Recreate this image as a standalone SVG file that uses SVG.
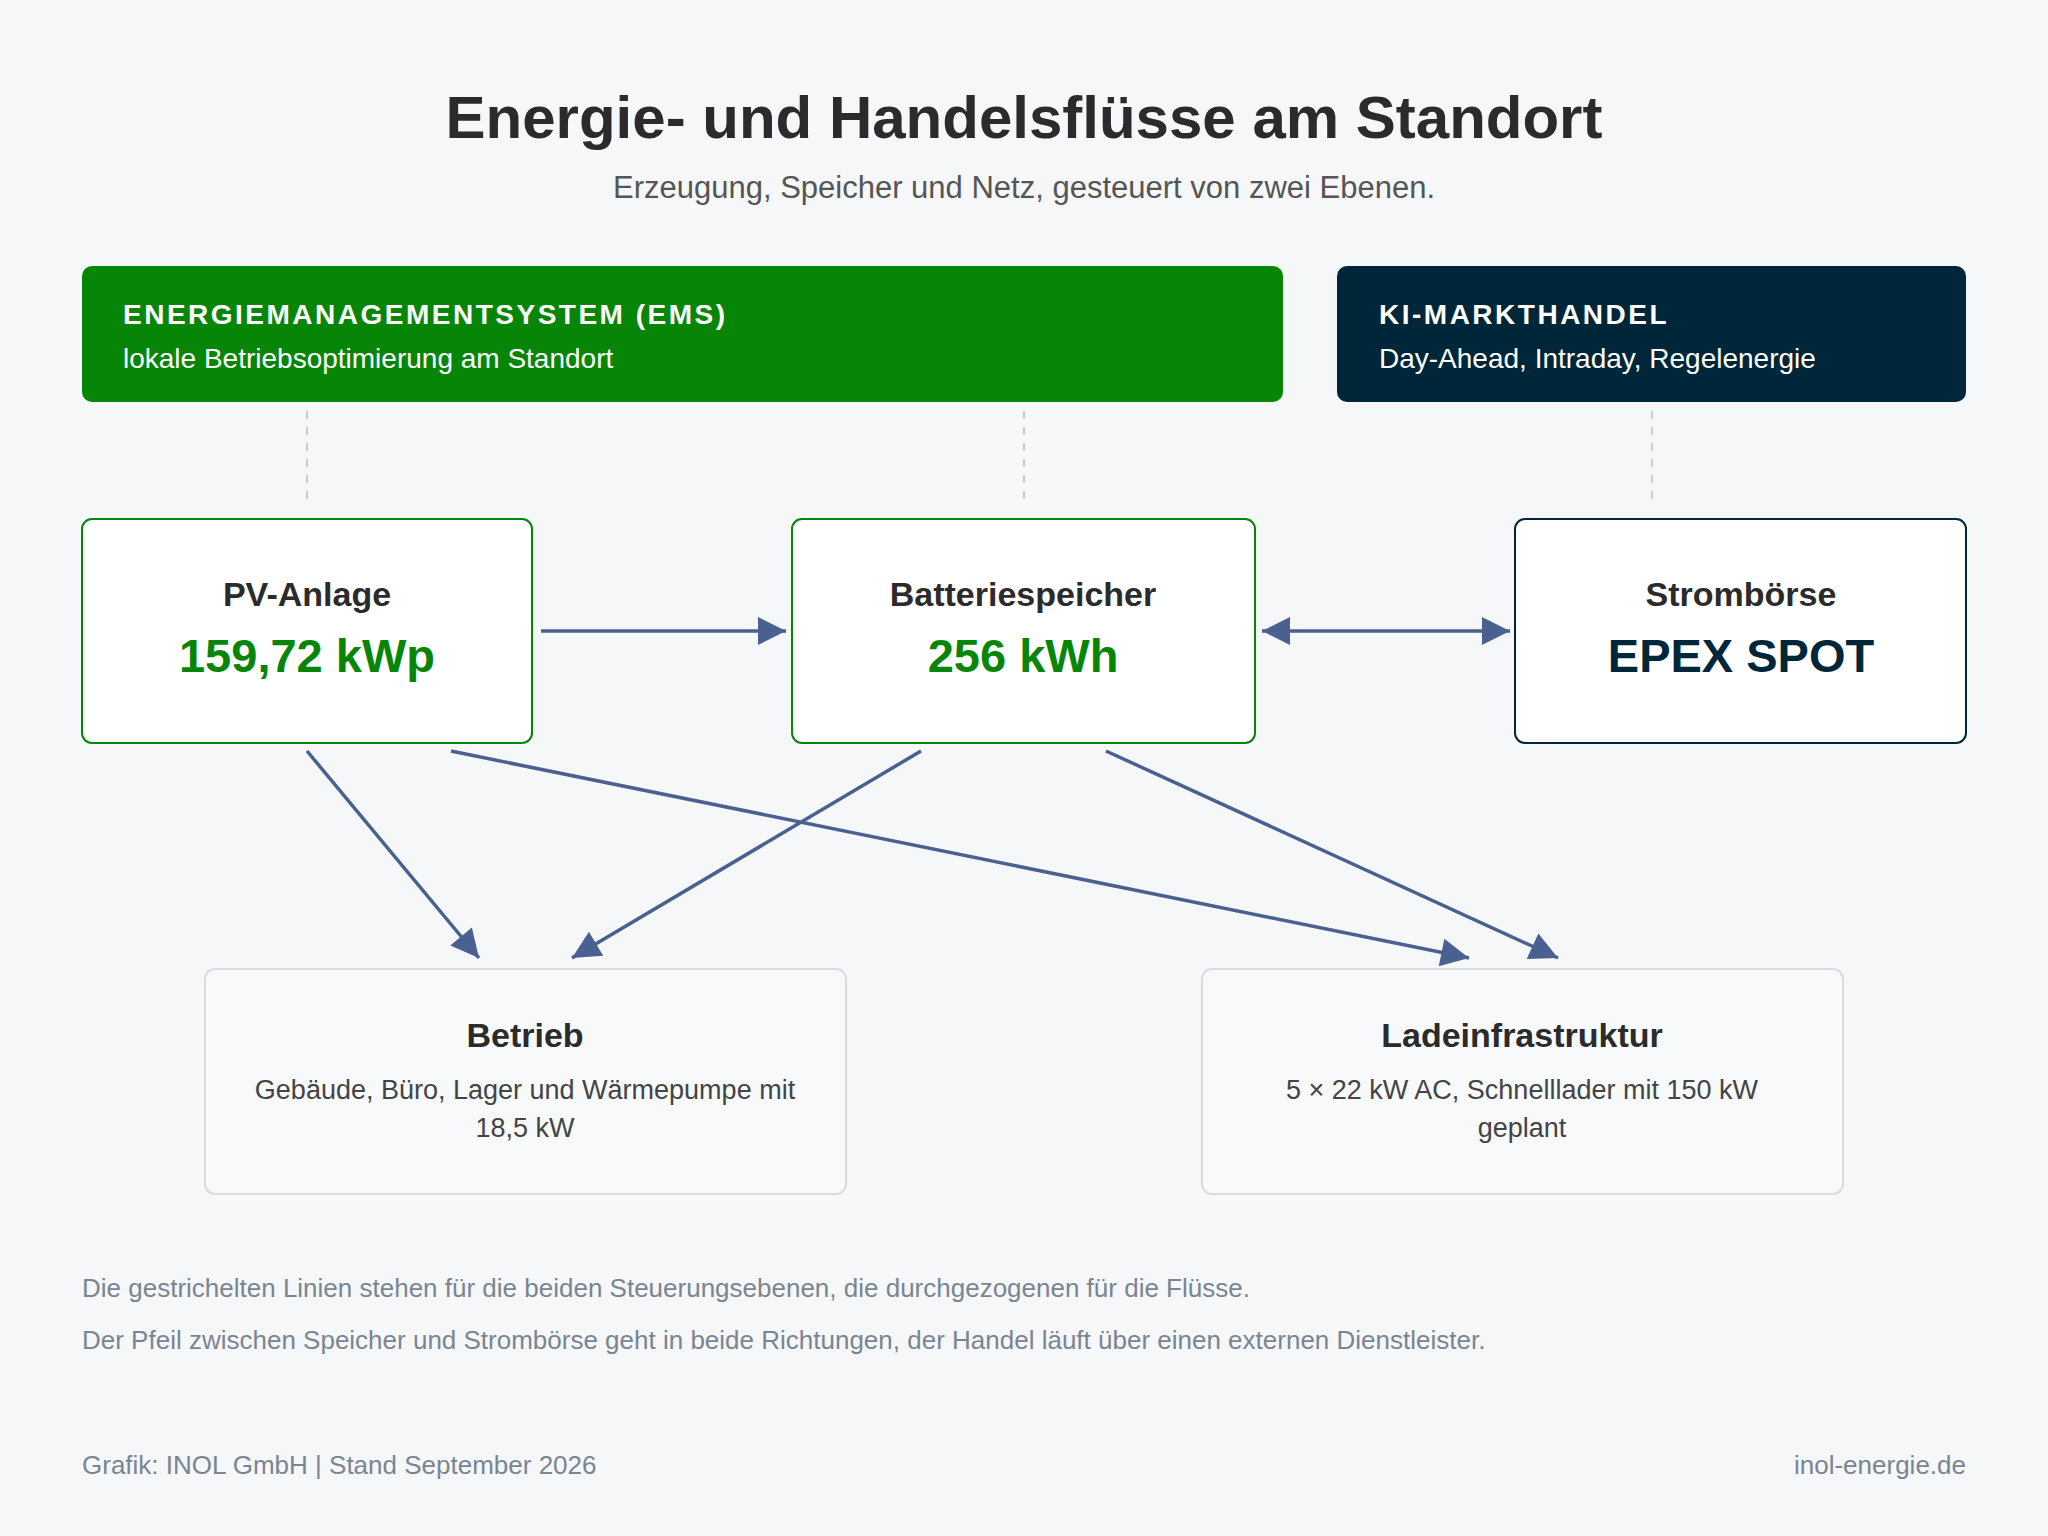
<svg xmlns="http://www.w3.org/2000/svg" width="2048" height="1536" viewBox="0 0 2048 1536">
<style>
text{font-family:"Liberation Sans",Arial,sans-serif}
.t{font-size:60px;font-weight:bold;fill:#2b2b2b;text-anchor:middle}
.st{font-size:31px;fill:#555;text-anchor:middle}
.hh{font-size:28px;font-weight:bold;fill:#fff;letter-spacing:2.5px}
.hs{font-size:28px;fill:#fff}
.nt{font-size:34px;font-weight:bold;fill:#2b2b2b;text-anchor:middle}
.nv{font-size:47px;font-weight:bold;text-anchor:middle}
.bd{font-size:27px;fill:#444;text-anchor:middle}
.note{font-size:26px;fill:#7a8593}
.dash{stroke:#c8ccd2;stroke-width:2;stroke-dasharray:8 8}
.fl{stroke:#4a6090;stroke-width:3.5;fill:none}
</style>
<defs>
<marker id="ah" viewBox="0 0 10 10" refX="10" refY="5" markerWidth="32" markerHeight="28" markerUnits="userSpaceOnUse" orient="auto-start-reverse"><path d="M0,0L10,5L0,10z" fill="#4a6090"/></marker>
</defs>
<rect width="2048" height="1536" fill="#f5f7f9"/>
<text class="t" x="1024" y="138">Energie- und Handelsflüsse am Standort</text>
<text class="st" x="1024" y="198">Erzeugung, Speicher und Netz, gesteuert von zwei Ebenen.</text>
<g id="ems"><rect x="82" y="266" width="1201" height="136" rx="10" fill="#078507"/>
<text class="hh" x="123" y="324">ENERGIEMANAGEMENTSYSTEM (EMS)</text>
<text class="hs" x="123" y="368">lokale Betriebsoptimierung am Standort</text></g>
<g id="ki"><rect x="1337" y="266" width="629" height="136" rx="10" fill="#002639"/>
<text class="hh" x="1379" y="324">KI-MARKTHANDEL</text>
<text class="hs" x="1379" y="368">Day-Ahead, Intraday, Regelenergie</text></g>
<g id="connectors">
<line class="dash" x1="307" y1="411" x2="307" y2="507"/>
<line class="dash" x1="1024" y1="411" x2="1024" y2="507"/>
<line class="dash" x1="1652" y1="411" x2="1652" y2="507"/>
<line class="fl" x1="541" y1="631" x2="786" y2="631" marker-end="url(#ah)"/>
<line class="fl" x1="1262" y1="631" x2="1510" y2="631" marker-start="url(#ah)" marker-end="url(#ah)"/>
<line class="fl" x1="307" y1="751" x2="479" y2="958" marker-end="url(#ah)"/>
<line class="fl" x1="451" y1="751" x2="1469" y2="958" marker-end="url(#ah)"/>
<line class="fl" x1="921" y1="751" x2="572" y2="958" marker-end="url(#ah)"/>
<line class="fl" x1="1106" y1="751" x2="1558" y2="958" marker-end="url(#ah)"/>
</g>
<g id="pv"><rect x="82" y="519" width="450" height="224" rx="10" fill="#fff" stroke="#078507" stroke-width="2"/>
<text class="nt" x="307" y="606">PV-Anlage</text><text class="nv" x="307" y="672" fill="#078507">159,72 kWp</text></g>
<g id="batt"><rect x="792" y="519" width="463" height="224" rx="10" fill="#fff" stroke="#078507" stroke-width="2"/>
<text class="nt" x="1023" y="606">Batteriespeicher</text><text class="nv" x="1023" y="672" fill="#078507">256 kWh</text></g>
<g id="boerse"><rect x="1515" y="519" width="451" height="224" rx="10" fill="#fff" stroke="#002639" stroke-width="2"/>
<text class="nt" x="1741" y="606">Strombörse</text><text class="nv" x="1741" y="672" fill="#002639">EPEX SPOT</text></g>
<g id="betrieb"><rect x="205" y="969" width="641" height="225" rx="10" fill="#f7f9fb" stroke="#d8dce1" stroke-width="2"/>
<text class="nt" x="525" y="1047">Betrieb</text>
<text class="bd" x="525" y="1099">Gebäude, Büro, Lager und Wärmepumpe mit</text>
<text class="bd" x="525" y="1137">18,5 kW</text></g>
<g id="lade"><rect x="1202" y="969" width="641" height="225" rx="10" fill="#f7f9fb" stroke="#d8dce1" stroke-width="2"/>
<text class="nt" x="1522" y="1047">Ladeinfrastruktur</text>
<text class="bd" x="1522" y="1099">5 × 22 kW AC, Schnelllader mit 150 kW</text>
<text class="bd" x="1522" y="1137">geplant</text></g>
<text class="note" x="82" y="1297">Die gestrichelten Linien stehen für die beiden Steuerungsebenen, die durchgezogenen für die Flüsse.</text>
<text class="note" x="82" y="1349">Der Pfeil zwischen Speicher und Strombörse geht in beide Richtungen, der Handel läuft über einen externen Dienstleister.</text>
<text class="note" x="82" y="1474">Grafik: INOL GmbH | Stand September 2026</text>
<text class="note" x="1966" y="1474" text-anchor="end">inol-energie.de</text>
</svg>
